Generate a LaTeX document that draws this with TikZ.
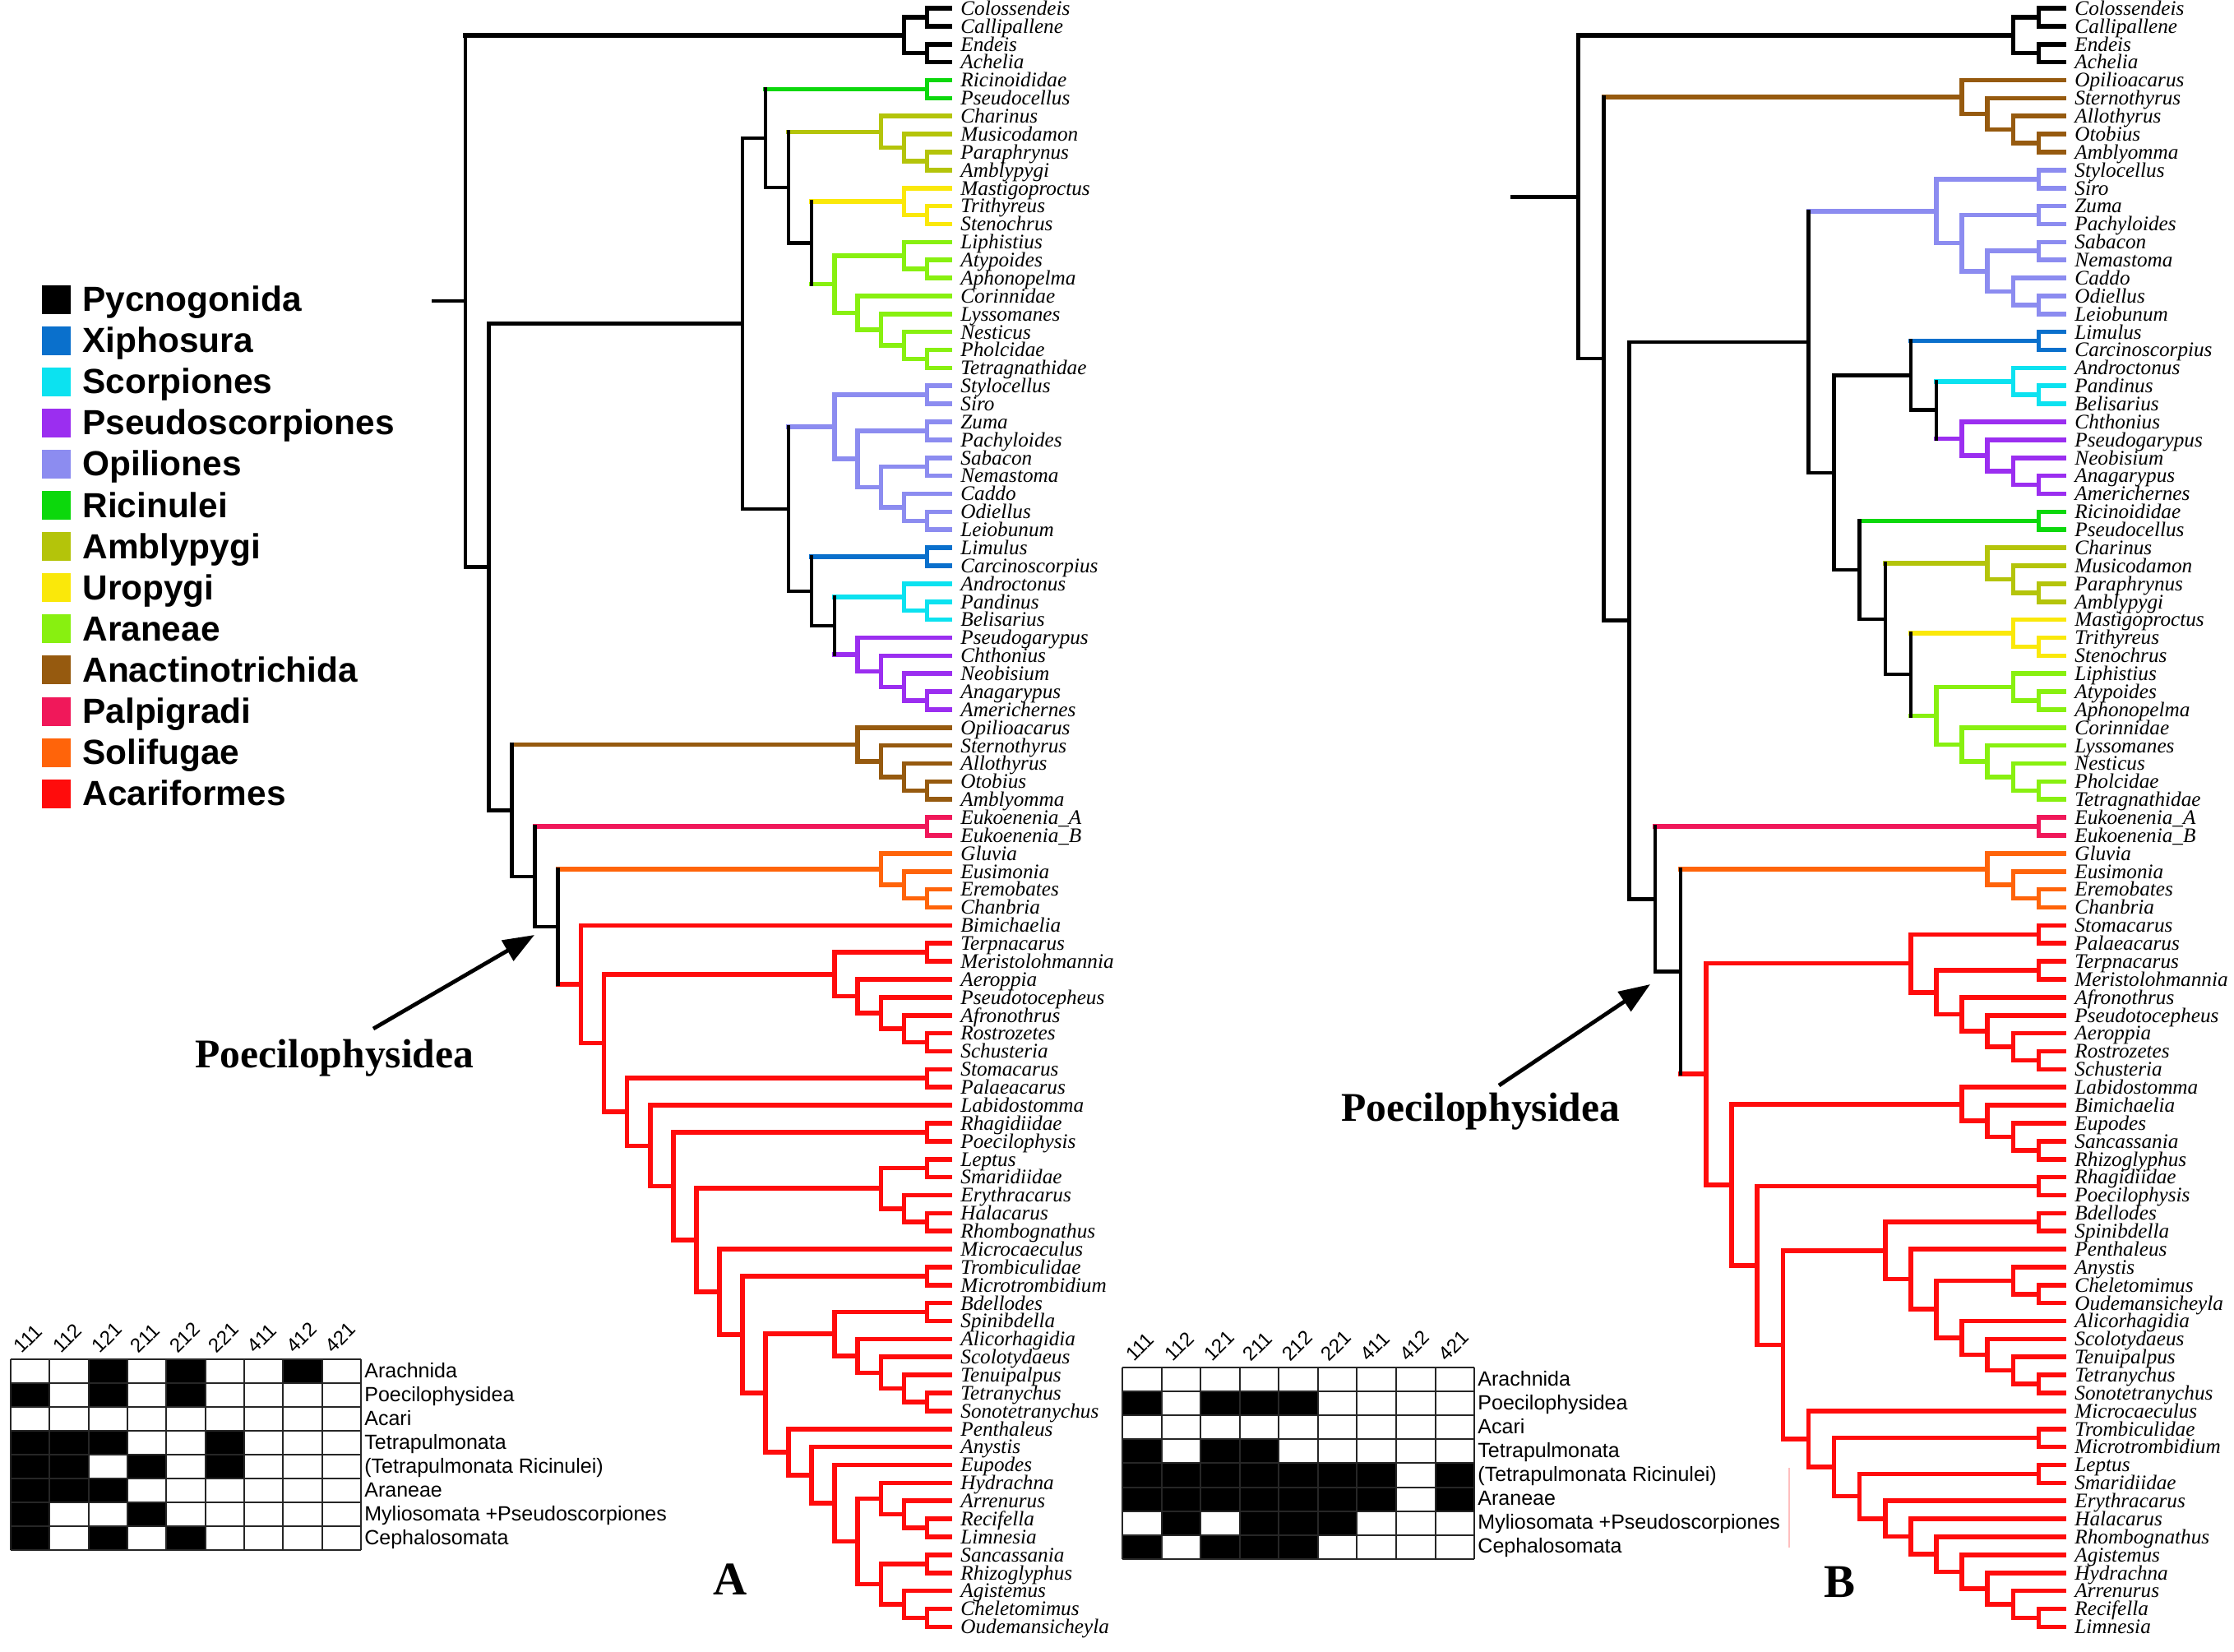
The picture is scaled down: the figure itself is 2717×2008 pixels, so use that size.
\documentclass[tikz,border=0pt]{standalone}
\usepackage{fontspec}
\setmainfont{Liberation Serif}
\newfontfamily\arial{Liberation Sans}
\usetikzlibrary{calc,arrows.meta}

% clade colours (legend order)
\definecolor{pyc}{RGB}{0,0,0}
\definecolor{xip}{RGB}{10,112,204}
\definecolor{sco}{RGB}{12,226,240}
\definecolor{pse}{RGB}{155,46,240}
\definecolor{opi}{RGB}{140,140,240}
\definecolor{ric}{RGB}{12,216,12}
\definecolor{amb}{RGB}{180,196,10}
\definecolor{uro}{RGB}{250,232,10}
\definecolor{ara}{RGB}{136,240,16}
\definecolor{ana}{RGB}{150,90,15}
\definecolor{pal}{RGB}{240,24,90}
\definecolor{sol}{RGB}{255,100,10}
\definecolor{aca}{RGB}{255,12,12}

\tikzset{
  branch/.style={line width=2.8pt, line cap=rect},
  backbone/.style={line width=2.2pt, line cap=rect},
  leaf/.style={anchor=west, inner xsep=6.25pt, inner ysep=0pt, text height=11pt, text depth=2.66pt,
    font=\fontsize{12.6}{14}\selectfont\itshape},
  legtext/.style={anchor=base west, inner sep=0pt, font=\arial\bfseries\fontsize{21.2}{25}\selectfont},
  rowlab/.style={anchor=base west, inner sep=0pt, font=\arial\fontsize{12.5}{15}\selectfont},
  colhead/.style={anchor=base west, inner sep=0pt, rotate=45, font=\arial\fontsize{12}{14}\selectfont},
  gridline/.style={black!85, line width=1pt},
  cladename/.style={anchor=base west, inner sep=0pt, font=\bfseries\fontsize{24.8}{29}\selectfont},
  pointer/.style={line width=2.4pt, -{Triangle[length=19pt,width=14pt]}},
  panel/.style={font=\bfseries\fontsize{28.5}{34}\selectfont}
}

% black backbone lines are drawn thinner than the coloured clades
\def\blk{black}

% #1 name, #2 height above the tips, #3 colour, #4 upper child, #5 lower child
\newcommand\clade[5]{%
  \path let \p1=($(#4)!.5!(#5)$) in coordinate (#1) at ({\tipx-\lvl*#2},\y1);
  \expandafter\def\csname clr-#1\endcsname{#3}%
  \ifcsname clr-#4\endcsname\edef\colu{\csname clr-#4\endcsname}\else\def\colu{#3}\fi
  \ifcsname clr-#5\endcsname\edef\coll{\csname clr-#5\endcsname}\else\def\coll{#3}\fi
  \def\tmpc{#3}%
  \ifx\colu\blk\def\wu{backbone}\else\def\wu{branch}\fi
  \ifx\coll\blk\def\wl{backbone}\else\def\wl{branch}\fi
  \ifx\tmpc\blk\def\wb{backbone}\else\def\wb{branch}\fi
  \draw[\wu,color=\colu] (#1 |- #4) -- (#4);
  \draw[\wl,color=\coll] (#1 |- #5) -- (#5);
  \draw[\wb,color=#3] (#1 |- #4) -- (#1 |- #5);
}

\begin{document}
\begin{tikzpicture}[x=0.5pt, y=-0.5pt]
\fill[white] (0,0) rectangle (2717,2008);
\useasboundingbox (0,0) rectangle (2717,2008);

% Legend
\foreach \kc/\nm [count=\k] in {pyc/Pycnogonida, xip/Xiphosura, sco/Scorpiones, pse/Pseudoscorpiones,
    opi/Opiliones, ric/Ricinulei, amb/Amblypygi, uro/Uropygi, ara/Araneae, ana/Anactinotrichida,
    pal/Palpigradi, sol/Solifugae, aca/Acariformes} {
  \fill[fill=\kc] (51,{364+50.1*(\k-1)-17.5}) rectangle ++(35,35);
  \node[legtext] (leg\k) at (100,{364+50.1*(\k-1)+14.5}) {\nm};
}

% ---------------- Tree A ----------------
\def\tipx{1155.5}\def\lvl{28.06}
\foreach \nm [count=\i] in {Colossendeis,Callipallene,Endeis,Achelia,Ricinoididae,Pseudocellus,Charinus,
    Musicodamon,Paraphrynus,Amblypygi,Mastigoproctus,Trithyreus,Stenochrus,Liphistius,Atypoides,
    Aphonopelma,Corinnidae,Lyssomanes,Nesticus,Pholcidae,Tetragnathidae,Stylocellus,Siro,Zuma,
    Pachyloides,Sabacon,Nemastoma,Caddo,Odiellus,Leiobunum,Limulus,Carcinoscorpius,Androctonus,
    Pandinus,Belisarius,Pseudogarypus,Chthonius,Neobisium,Anagarypus,Americhernes,Opilioacarus,
    Sternothyrus,Allothyrus,Otobius,Amblyomma,Eukoenenia\_A,Eukoenenia\_B,Gluvia,Eusimonia,
    Eremobates,Chanbria,Bimichaelia,Terpnacarus,Meristolohmannia,Aeroppia,Pseudotocepheus,
    Afronothrus,Rostrozetes,Schusteria,Stomacarus,Palaeacarus,Labidostomma,Rhagidiidae,
    Poecilophysis,Leptus,Smaridiidae,Erythracarus,Halacarus,Rhombognathus,Microcaeculus,
    Trombiculidae,Microtrombidium,Bdellodes,Spinibdella,Alicorhagidia,Scolotydaeus,Tenuipalpus,
    Tetranychus,Sonotetranychus,Penthaleus,Anystis,Eupodes,Hydrachna,Arrenurus,Recifella,Limnesia,
    Sancassania,Rhizoglyphus,Agistemus,Cheletomimus,Oudemansicheyla}
  \node[leaf] (a\i) at (\tipx,{10+21.87*(\i-1)}) {\nm};

% Pycnogonida
\clade{aP1}{1}{pyc}{a1}{a2}
\clade{aP2}{1}{pyc}{a3}{a4}
\clade{aPyc}{2}{pyc}{aP1}{aP2}
% Ricinulei, Amblypygi, Uropygi, Araneae
\clade{aRic}{1}{ric}{a5}{a6}
\clade{aAm1}{1}{amb}{a9}{a10}
\clade{aAm2}{2}{amb}{a8}{aAm1}
\clade{aAmb}{3}{amb}{a7}{aAm2}
\clade{aUr1}{1}{uro}{a12}{a13}
\clade{aUro}{2}{uro}{a11}{aUr1}
\clade{aAr1}{1}{ara}{a15}{a16}
\clade{aAr2}{2}{ara}{a14}{aAr1}
\clade{aAr3}{1}{ara}{a20}{a21}
\clade{aAr4}{2}{ara}{a19}{aAr3}
\clade{aAr5}{3}{ara}{a18}{aAr4}
\clade{aAr6}{4}{ara}{a17}{aAr5}
\clade{aAra}{5}{ara}{aAr2}{aAr6}
\clade{aT1}{6}{black}{aUro}{aAra}
\clade{aT2}{7}{black}{aAmb}{aT1}
\clade{aT3}{8}{black}{aRic}{aT2}
% Opiliones
\clade{aOp1}{1}{opi}{a22}{a23}
\clade{aOp2}{1}{opi}{a24}{a25}
\clade{aOp3}{1}{opi}{a26}{a27}
\clade{aOp4}{1}{opi}{a29}{a30}
\clade{aOp5}{2}{opi}{a28}{aOp4}
\clade{aOp6}{3}{opi}{aOp3}{aOp5}
\clade{aOp7}{4}{opi}{aOp2}{aOp6}
\clade{aOpi}{5}{opi}{aOp1}{aOp7}
% Xiphosura, Scorpiones, Pseudoscorpiones
\clade{aXip}{1}{xip}{a31}{a32}
\clade{aSc1}{1}{sco}{a34}{a35}
\clade{aSco}{2}{sco}{a33}{aSc1}
\clade{aPs1}{1}{pse}{a39}{a40}
\clade{aPs2}{2}{pse}{a38}{aPs1}
\clade{aPs3}{3}{pse}{a37}{aPs2}
\clade{aPse}{4}{pse}{a36}{aPs3}
\clade{aT4}{5}{black}{aSco}{aPse}
\clade{aT5}{6}{black}{aXip}{aT4}
\clade{aT6}{7}{black}{aOpi}{aT5}
\clade{aT7}{9}{black}{aT3}{aT6}
% Anactinotrichida, Palpigradi, Solifugae
\clade{aAn1}{1}{ana}{a44}{a45}
\clade{aAn2}{2}{ana}{a43}{aAn1}
\clade{aAn3}{3}{ana}{a42}{aAn2}
\clade{aAna}{4}{ana}{a41}{aAn3}
\clade{aPal}{1}{pal}{a46}{a47}
\clade{aSo1}{1}{sol}{a50}{a51}
\clade{aSo2}{2}{sol}{a49}{aSo1}
\clade{aSol}{3}{sol}{a48}{aSo2}
% Acariformes
\clade{aOr1}{1}{aca}{a53}{a54}
\clade{aOr2}{1}{aca}{a58}{a59}
\clade{aOr3}{2}{aca}{a57}{aOr2}
\clade{aOr4}{3}{aca}{a56}{aOr3}
\clade{aOr5}{4}{aca}{a55}{aOr4}
\clade{aOri}{5}{aca}{aOr1}{aOr5}
\clade{aSt}{1}{aca}{a60}{a61}
\clade{aRh}{1}{aca}{a63}{a64}
\clade{aEr1}{1}{aca}{a65}{a66}
\clade{aEr2}{1}{aca}{a68}{a69}
\clade{aEr3}{2}{aca}{a67}{aEr2}
\clade{aEry}{3}{aca}{aEr1}{aEr3}
\clade{aTr}{1}{aca}{a71}{a72}
\clade{aTe1}{1}{aca}{a73}{a74}
\clade{aTe2}{1}{aca}{a78}{a79}
\clade{aTe3}{2}{aca}{a77}{aTe2}
\clade{aTe4}{3}{aca}{a76}{aTe3}
\clade{aTe5}{4}{aca}{a75}{aTe4}
\clade{aTet}{5}{aca}{aTe1}{aTe5}
\clade{aHy1}{1}{aca}{a85}{a86}
\clade{aHy2}{2}{aca}{a84}{aHy1}
\clade{aHy3}{3}{aca}{a83}{aHy2}
\clade{aSa1}{1}{aca}{a87}{a88}
\clade{aSa2}{1}{aca}{a90}{a91}
\clade{aSa3}{2}{aca}{a89}{aSa2}
\clade{aSa4}{3}{aca}{aSa1}{aSa3}
\clade{aC13}{4}{aca}{aHy3}{aSa4}
\clade{aC12}{5}{aca}{a82}{aC13}
\clade{aC11}{6}{aca}{a81}{aC12}
\clade{aC10}{7}{aca}{a80}{aC11}
\clade{aC9}{8}{aca}{aTet}{aC10}
\clade{aC8}{9}{aca}{aTr}{aC9}
\clade{aC7}{10}{aca}{a70}{aC8}
\clade{aC6}{11}{aca}{aEry}{aC7}
\clade{aC5}{12}{aca}{aRh}{aC6}
\clade{aC4}{13}{aca}{a62}{aC5}
\clade{aC3}{14}{aca}{aSt}{aC4}
\clade{aC2}{15}{aca}{aOri}{aC3}
\clade{aAca}{16}{aca}{a52}{aC2}
% backbone
\clade{aL3}{17}{black}{aSol}{aAca}
\clade{aL2}{18}{black}{aPal}{aL3}
\clade{aL1}{19}{black}{aAna}{aL2}
\clade{aRest}{20}{black}{aT7}{aL1}
\clade{aRoot}{21}{black}{aPyc}{aRest}
\path (aRoot) ++(-39,0) coordinate (aStub);
\draw[backbone] (aStub) -- (aRoot);

% ---------------- Tree B ----------------
\def\tipx{2510.5}\def\lvl{31.11}
\foreach \nm [count=\i] in {Colossendeis,Callipallene,Endeis,Achelia,Opilioacarus,Sternothyrus,
    Allothyrus,Otobius,Amblyomma,Stylocellus,Siro,Zuma,Pachyloides,Sabacon,Nemastoma,Caddo,
    Odiellus,Leiobunum,Limulus,Carcinoscorpius,Androctonus,Pandinus,Belisarius,Chthonius,
    Pseudogarypus,Neobisium,Anagarypus,Americhernes,Ricinoididae,Pseudocellus,Charinus,
    Musicodamon,Paraphrynus,Amblypygi,Mastigoproctus,Trithyreus,Stenochrus,Liphistius,Atypoides,
    Aphonopelma,Corinnidae,Lyssomanes,Nesticus,Pholcidae,Tetragnathidae,Eukoenenia\_A,
    Eukoenenia\_B,Gluvia,Eusimonia,Eremobates,Chanbria,Stomacarus,Palaeacarus,Terpnacarus,
    Meristolohmannia,Afronothrus,Pseudotocepheus,Aeroppia,Rostrozetes,Schusteria,Labidostomma,
    Bimichaelia,Eupodes,Sancassania,Rhizoglyphus,Rhagidiidae,Poecilophysis,Bdellodes,Spinibdella,
    Penthaleus,Anystis,Cheletomimus,Oudemansicheyla,Alicorhagidia,Scolotydaeus,Tenuipalpus,
    Tetranychus,Sonotetranychus,Microcaeculus,Trombiculidae,Microtrombidium,Leptus,Smaridiidae,
    Erythracarus,Halacarus,Rhombognathus,Agistemus,Hydrachna,Arrenurus,Recifella,Limnesia}
  \node[leaf] (b\i) at (\tipx,{10+21.87*(\i-1)}) {\nm};

% Pycnogonida, Anactinotrichida
\clade{bP1}{1}{pyc}{b1}{b2}
\clade{bP2}{1}{pyc}{b3}{b4}
\clade{bPyc}{2}{pyc}{bP1}{bP2}
\clade{bAn1}{1}{ana}{b8}{b9}
\clade{bAn2}{2}{ana}{b7}{bAn1}
\clade{bAn3}{3}{ana}{b6}{bAn2}
\clade{bAna}{4}{ana}{b5}{bAn3}
% Opiliones
\clade{bOp1}{1}{opi}{b10}{b11}
\clade{bOp2}{1}{opi}{b12}{b13}
\clade{bOp3}{1}{opi}{b14}{b15}
\clade{bOp4}{1}{opi}{b17}{b18}
\clade{bOp5}{2}{opi}{b16}{bOp4}
\clade{bOp6}{3}{opi}{bOp3}{bOp5}
\clade{bOp7}{4}{opi}{bOp2}{bOp6}
\clade{bOpi}{5}{opi}{bOp1}{bOp7}
% Xiphosura, Scorpiones, Pseudoscorpiones
\clade{bXip}{1}{xip}{b19}{b20}
\clade{bSc1}{1}{sco}{b22}{b23}
\clade{bSco}{2}{sco}{b21}{bSc1}
\clade{bPs1}{1}{pse}{b27}{b28}
\clade{bPs2}{2}{pse}{b26}{bPs1}
\clade{bPs3}{3}{pse}{b25}{bPs2}
\clade{bPse}{4}{pse}{b24}{bPs3}
\clade{bT1}{5}{black}{bSco}{bPse}
\clade{bT2}{6}{black}{bXip}{bT1}
% Ricinulei, Amblypygi, Uropygi, Araneae
\clade{bRic}{1}{ric}{b29}{b30}
\clade{bAm1}{1}{amb}{b33}{b34}
\clade{bAm2}{2}{amb}{b32}{bAm1}
\clade{bAmb}{3}{amb}{b31}{bAm2}
\clade{bUr1}{1}{uro}{b36}{b37}
\clade{bUro}{2}{uro}{b35}{bUr1}
\clade{bAr1}{1}{ara}{b39}{b40}
\clade{bAr2}{2}{ara}{b38}{bAr1}
\clade{bAr3}{1}{ara}{b44}{b45}
\clade{bAr4}{2}{ara}{b43}{bAr3}
\clade{bAr5}{3}{ara}{b42}{bAr4}
\clade{bAr6}{4}{ara}{b41}{bAr5}
\clade{bAra}{5}{ara}{bAr2}{bAr6}
\clade{bT3}{6}{black}{bUro}{bAra}
\clade{bT4}{7}{black}{bAmb}{bT3}
\clade{bT5}{8}{black}{bRic}{bT4}
\clade{bT6}{9}{black}{bT2}{bT5}
\clade{bT7}{10}{black}{bOpi}{bT6}
% Palpigradi, Solifugae
\clade{bPal}{1}{pal}{b46}{b47}
\clade{bSo1}{1}{sol}{b50}{b51}
\clade{bSo2}{2}{sol}{b49}{bSo1}
\clade{bSol}{3}{sol}{b48}{bSo2}
% Acariformes
\clade{bOr1}{1}{aca}{b52}{b53}
\clade{bOr2}{1}{aca}{b54}{b55}
\clade{bOr3}{1}{aca}{b59}{b60}
\clade{bOr4}{2}{aca}{b58}{bOr3}
\clade{bOr5}{3}{aca}{b57}{bOr4}
\clade{bOr6}{4}{aca}{b56}{bOr5}
\clade{bOr7}{5}{aca}{bOr2}{bOr6}
\clade{bOri}{6}{aca}{bOr1}{bOr7}
\clade{bLa1}{1}{aca}{b64}{b65}
\clade{bLa2}{2}{aca}{b63}{bLa1}
\clade{bLa3}{3}{aca}{b62}{bLa2}
\clade{bLab}{4}{aca}{b61}{bLa3}
\clade{bRh}{1}{aca}{b66}{b67}
\clade{bBd}{1}{aca}{b68}{b69}
\clade{bAy1}{1}{aca}{b72}{b73}
\clade{bAy2}{2}{aca}{b71}{bAy1}
\clade{bTe1}{1}{aca}{b77}{b78}
\clade{bTe2}{2}{aca}{b76}{bTe1}
\clade{bTe3}{3}{aca}{b75}{bTe2}
\clade{bTet}{4}{aca}{b74}{bTe3}
\clade{bK3}{5}{aca}{bAy2}{bTet}
\clade{bK2}{6}{aca}{b70}{bK3}
\clade{bK1}{7}{aca}{bBd}{bK2}
\clade{bTr}{1}{aca}{b80}{b81}
\clade{bLe}{1}{aca}{b82}{b83}
\clade{bH1}{1}{aca}{b90}{b91}
\clade{bH2}{2}{aca}{b89}{bH1}
\clade{bH3}{3}{aca}{b88}{bH2}
\clade{bH4}{4}{aca}{b87}{bH3}
\clade{bH5}{5}{aca}{b86}{bH4}
\clade{bH6}{6}{aca}{b85}{bH5}
\clade{bH7}{7}{aca}{b84}{bH6}
\clade{bM3}{8}{aca}{bLe}{bH7}
\clade{bM2}{9}{aca}{bTr}{bM3}
\clade{bM1}{10}{aca}{b79}{bM2}
\clade{bC4}{11}{aca}{bK1}{bM1}
\clade{bC3}{12}{aca}{bRh}{bC4}
\clade{bC2}{13}{aca}{bLab}{bC3}
\clade{bAca}{14}{aca}{bOri}{bC2}
% backbone
\clade{bL2}{15}{black}{bSol}{bAca}
\clade{bL1}{16}{black}{bPal}{bL2}
\clade{bT8}{17}{black}{bT7}{bL1}
\clade{bT9}{18}{black}{bAna}{bT8}
\clade{bRoot}{19}{black}{bPyc}{bT9}
\path (bRoot) ++(-80,0) coordinate (bStub);
\draw[backbone] (bStub) -- (bRoot);

% Poecilophysidea pointers
\node[cladename] (poeA) at (237,1298) {Poecilophysidea};
\coordinate (tailA) at (454,1251);
\coordinate (tipA) at (650,1137);
\draw[pointer] (tailA) -- (tipA);
\node[cladename] (poeB) at (1631,1363) {Poecilophysidea};
\coordinate (tailB) at (1823,1320);
\coordinate (tipB) at (2007,1197);
\draw[pointer] (tailB) -- (tipB);

% panel letters
\node[panel] (panA) at (888,1921) {A};
\node[panel] (panB) at (2237,1924) {B};

% ---------------- character tables ----------------
% table A
\def\tx{13}\def\ty{1653}\def\cw{47.33}\def\ch{29}
\foreach \cells [count=\r] in {{0,0,1,0,1,0,0,1,0},{1,0,1,0,1,0,0,0,0},{0,0,0,0,0,0,0,0,0},
    {1,1,1,0,0,1,0,0,0},{1,1,0,1,0,1,0,0,0},{1,1,1,0,0,0,0,0,0},{1,0,0,1,0,0,0,0,0},{1,0,1,0,1,0,0,0,0}}{
  \foreach \v [count=\c] in \cells {
    \ifnum\v=1 \fill ({\tx+\cw*(\c-1)},{\ty+\ch*(\r-1)}) rectangle ++(\cw,\ch); \fi
  }
}
\foreach \c in {0,...,9} \draw[gridline] ({\tx+\cw*\c},\ty) -- ++(0,{8*\ch});
\foreach \r in {0,...,8} \draw[gridline] (\tx,{\ty+\ch*\r}) -- ++({9*\cw},0);
\foreach \hd [count=\c] in {111,112,121,211,212,221,411,412,421}
  \node[colhead] (colA\c) at ({\tx+\cw*(\c-0.5)-10},{\ty-6}) {\hd};
\foreach \lab [count=\r] in {Arachnida,Poecilophysidea,Acari,Tetrapulmonata,{(Tetrapulmonata Ricinulei)},
    Araneae,{Myliosomata +Pseudoscorpiones},Cephalosomata}
  \node[rowlab] (rowA\r) at ({\tx+9*\cw+4},{\ty+\ch*\r-7}) {\lab};

% table B
\def\tx{1365}\def\ty{1663}\def\cw{47.56}\def\ch{29.1}
\foreach \cells [count=\r] in {{0,0,0,0,0,0,0,0,0},{1,0,1,1,1,0,0,0,0},{0,0,0,0,0,0,0,0,0},
    {1,0,1,1,0,0,0,0,0},{1,1,1,1,1,1,1,0,1},{1,1,1,1,1,1,1,0,1},{0,1,0,1,1,1,0,0,0},{1,0,1,1,1,0,0,0,0}}{
  \foreach \v [count=\c] in \cells {
    \ifnum\v=1 \fill ({\tx+\cw*(\c-1)},{\ty+\ch*(\r-1)}) rectangle ++(\cw,\ch); \fi
  }
}
\foreach \c in {0,...,9} \draw[gridline] ({\tx+\cw*\c},\ty) -- ++(0,{8*\ch});
\foreach \r in {0,...,8} \draw[gridline] (\tx,{\ty+\ch*\r}) -- ++({9*\cw},0);
\foreach \hd [count=\c] in {111,112,121,211,212,221,411,412,421}
  \node[colhead] (colB\c) at ({\tx+\cw*(\c-0.5)-10},{\ty-6}) {\hd};
\foreach \lab [count=\r] in {Arachnida,Poecilophysidea,Acari,Tetrapulmonata,{(Tetrapulmonata Ricinulei)},
    Araneae,{Myliosomata +Pseudoscorpiones},Cephalosomata}
  \node[rowlab] (rowB\r) at ({\tx+9*\cw+4},{\ty+\ch*\r-7}) {\lab};

% faint mark beside table B
\draw[red!25, line width=0.6pt] (2176,1785) -- (2176,1882);
\end{tikzpicture}
\end{document}
